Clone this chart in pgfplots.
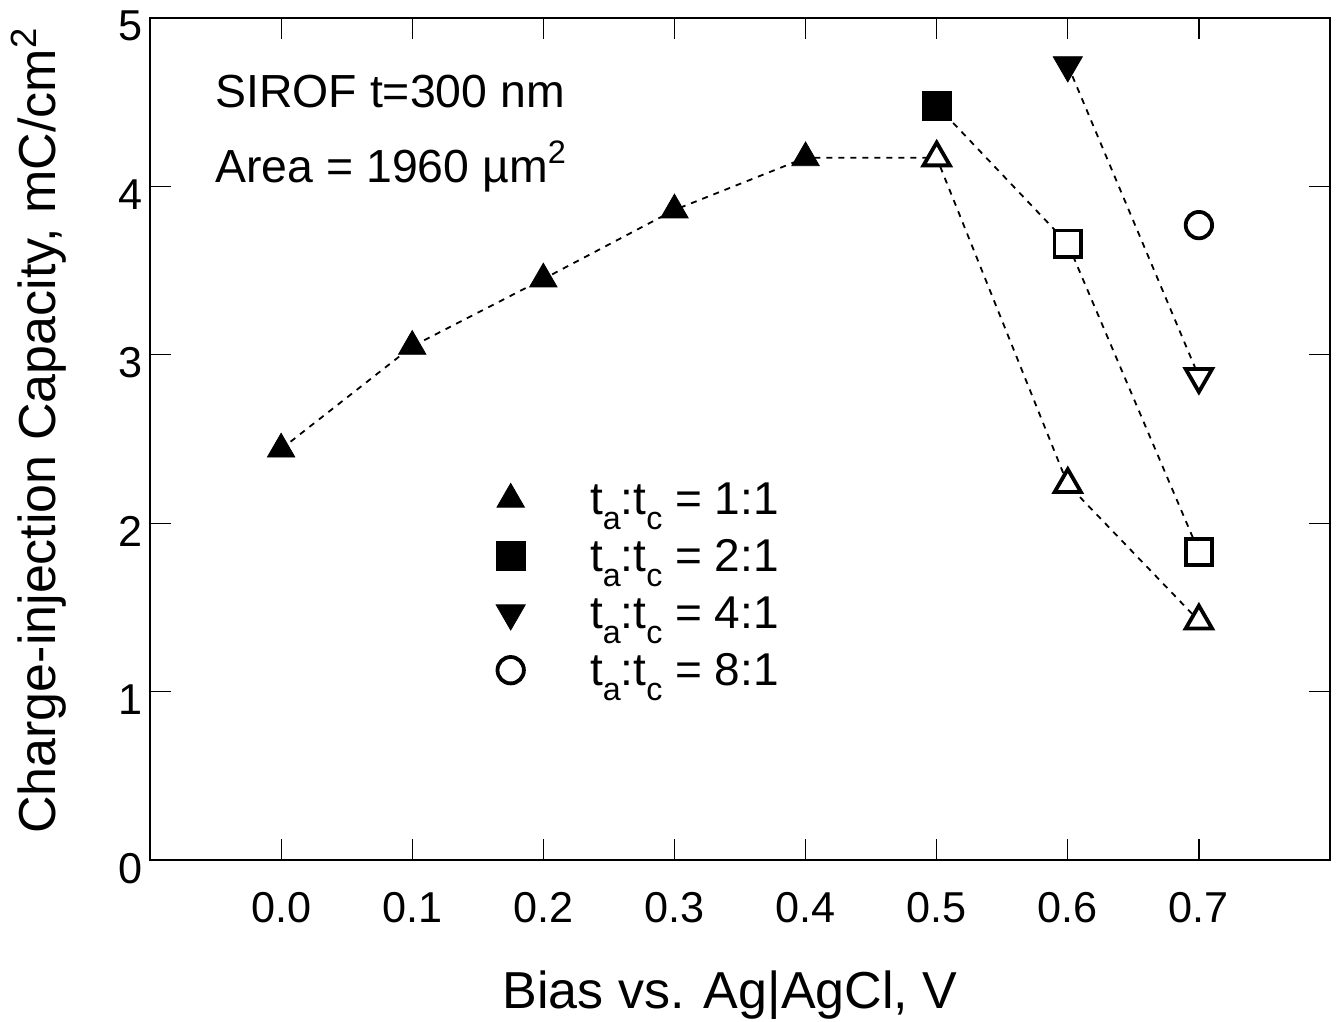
\documentclass[border=0pt]{standalone}
\usepackage{fontspec}
\setmainfont{Liberation Sans}
\usepackage{graphicx}
\usepackage{pgfplots}
\pgfplotsset{compat=1.18}
\newcommand\sub[1]{\smash{\raisebox{-0.62ex}{\scalebox{0.7}{#1}}}}
\begin{document}
\begin{tikzpicture}
\begin{axis}[
  scale only axis, width=590pt, height=421pt,
  xmin=-0.1, xmax=0.8, ymin=0, ymax=5,
  xtick={0,0.1,0.2,0.3,0.4,0.5,0.6,0.7},
  ytick={0,1,2,3,4,5},
  tick pos=both, tick align=inside,
  major tick length=10.5pt,
  every tick/.style={black, line width=0.6pt},
  axis line style={line width=1.4pt},
  /pgf/number format/assume math mode=true,
  x tick label style={/pgf/number format/fixed,/pgf/number format/fixed zerofill,/pgf/number format/precision=1},
  tick label style={font=\fontsize{21.6}{24}\selectfont},
  xticklabel style={anchor=base, yshift=-31pt},
  yticklabel style={anchor=base east, yshift=-11.5pt},
  xlabel={Bias vs. Ag|AgCl, V},
  ylabel={Charge-injection Capacity, mC/cm\textsuperscript{2}},
  label style={font=\fontsize{26}{30}\selectfont},
  xlabel style={at={(axis description cs:0.4915,-0.1758)}, anchor=base},
  ylabel style={at={(axis description cs:-0.0805,0.51)}, anchor=base},
  legend style={at={(axis cs:0.1626,2.25)}, anchor=north west, draw=none, fill=none,
    inner sep=0pt, outer sep=0pt, font=\fontsize{23}{27}\selectfont, row sep=10.4pt,
    nodes={inner sep=0pt}},
  legend cell align=left,
  legend image code/.code={\draw[#1] plot coordinates {(0pt,0pt)}; \path (-8pt,-8pt) (39.5pt,8pt);},
  dline/.style={black, line width=0.9pt, dash pattern=on 3pt off 3pt, no marks},
]
% connecting dashed lines
\addplot[dline, forget plot] coordinates {(0,2.44) (0.1,3.05) (0.2,3.45) (0.3,3.86) (0.4,4.17) (0.5,4.17) (0.6,2.23) (0.7,1.42)};
\addplot[dline, forget plot] coordinates {(0.5,4.48) (0.6,3.66) (0.7,1.83)};
\addplot[dline, forget plot] coordinates {(0.6,4.72) (0.7,2.87)};
% markers
\addplot[black, only marks, mark=triangle*, mark size=7.9pt, mark options={solid, fill=black, line width=0.4pt}, forget plot] coordinates {(0,2.44) (0.1,3.05) (0.2,3.45) (0.3,3.86) (0.4,4.17)};
\addplot[black, only marks, mark=triangle*, mark size=7.6pt, mark options={solid, fill=white, line width=1.9pt}, forget plot] coordinates {(0.5,4.17) (0.6,2.23) (0.7,1.42)};
\addplot[black, only marks, mark=square*, mark size=7.3pt, mark options={solid, fill=black, line width=0.4pt}, forget plot] coordinates {(0.5,4.48)};
\addplot[black, only marks, mark=square*, mark size=6.6pt, mark options={solid, fill=white, line width=1.9pt}, forget plot] coordinates {(0.6,3.66) (0.7,1.83)};
\addplot[black, only marks, mark=triangle*, mark size=8.4pt, mark options={solid, fill=black, line width=0.4pt, rotate=180}, forget plot] coordinates {(0.6,4.72)};
\addplot[black, only marks, mark=triangle*, mark size=7.6pt, mark options={solid, fill=white, line width=1.9pt, rotate=180}, forget plot] coordinates {(0.7,2.87)};
\addplot[black, only marks, mark=*, mark size=6.6pt, mark options={solid, fill=white, line width=1.9pt}, forget plot] coordinates {(0.7,3.77)};
% legend
\addlegendimage{black, mark=triangle*, mark size=7.9pt, mark options={solid, fill=black, line width=0.4pt}}
\addlegendentry{\rule{0pt}{16.6pt}t\sub{a}:t\sub{c} = 1:1}
\addlegendimage{black, mark=square*, mark size=7.3pt, mark options={solid, fill=black, line width=0.4pt}}
\addlegendentry{\rule{0pt}{16.6pt}t\sub{a}:t\sub{c} = 2:1}
\addlegendimage{black, mark=triangle*, mark size=8.4pt, mark options={solid, fill=black, line width=0.4pt, rotate=180}}
\addlegendentry{\rule{0pt}{16.6pt}t\sub{a}:t\sub{c} = 4:1}
\addlegendimage{black, mark=*, mark size=6.6pt, mark options={solid, fill=white, line width=1.9pt}}
\addlegendentry{\rule{0pt}{16.6pt}t\sub{a}:t\sub{c} = 8:1}
% annotations
\node[anchor=base west, inner sep=0pt, font=\fontsize{23.2}{27}\selectfont] at (axis cs:-0.0504,4.47) {SIROF t=300 nm};
\node[anchor=base west, inner sep=0pt, font=\fontsize{23.2}{27}\selectfont] at (axis cs:-0.0504,4.026) {Area = 1960 µm\textsuperscript{2}};
\end{axis}
\pgfresetboundingbox
\path ([xshift=-75pt,yshift=-80.5pt]current axis.south west) rectangle ([xshift=4.5pt,yshift=9pt]current axis.north east);
\end{tikzpicture}
\end{document}
